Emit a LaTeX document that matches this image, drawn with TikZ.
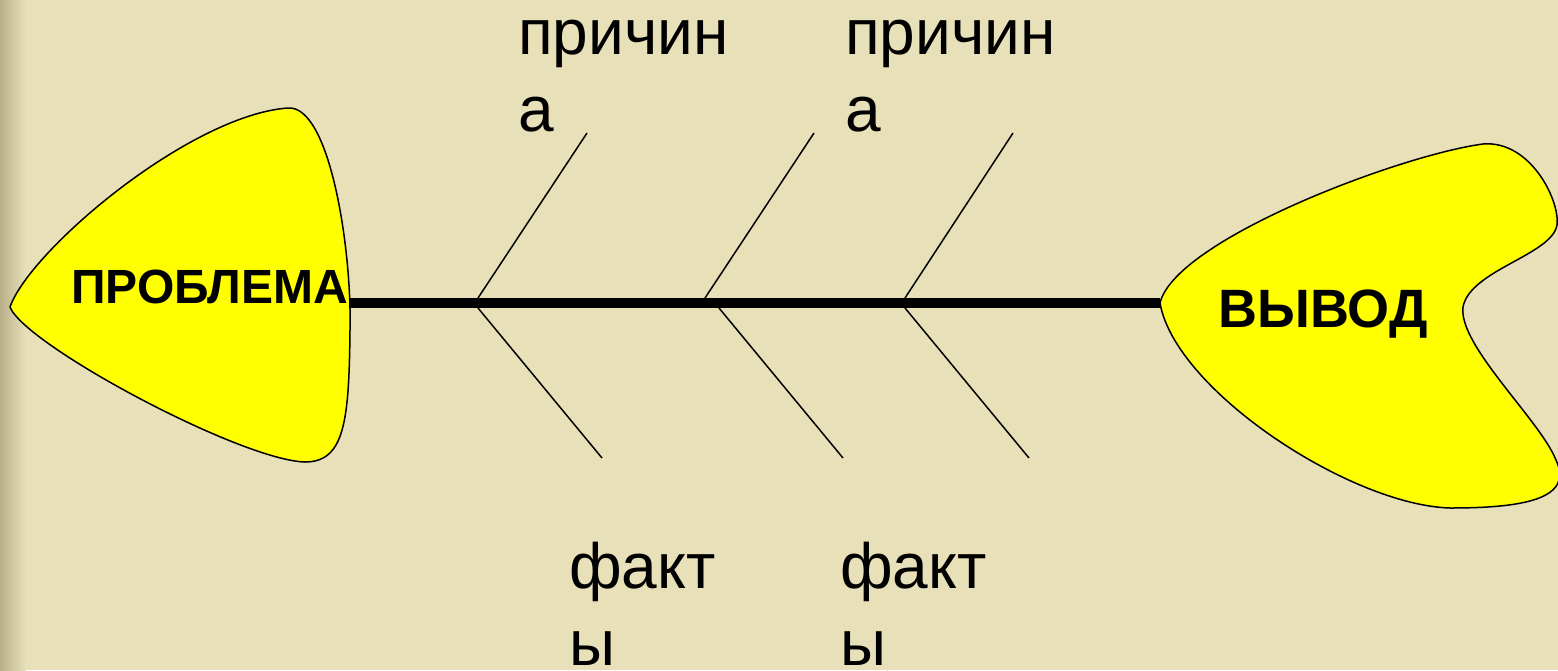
\documentclass[tikz,border=0pt]{standalone}
\usepackage{fontspec}
\setmainfont{Liberation Sans}
\usetikzlibrary{positioning}
\definecolor{bgbeige}{RGB}{232,224,184}
\definecolor{stripdark}{RGB}{186,176,138}
\definecolor{headyellow}{RGB}{255,255,0}

\begin{document}
\begin{tikzpicture}[
    x=1pt, y=-1pt,
    font=\fontsize{64}{77}\selectfont
]
\tikzset{
    headshape/.style = {draw=black, line width=1.5pt, fill=headyellow},
    headtext/.style = {anchor=base west, inner sep=0pt, font=\bfseries\fontsize{48}{56}\selectfont},
    tailtext/.style = {anchor=base west, inner sep=0pt, font=\bfseries\fontsize{54}{64}\selectfont},
    bonelabel/.style = {anchor=north west, inner sep=0pt, align=left},
    spine/.style = {-, line width=10pt, black},
    bone/.style = {-, line width=1.5pt, black}
}
\useasboundingbox (0,0) rectangle (1558,670);
\fill[bgbeige] (0,0) rectangle (1558,670);
\shade[left color=stripdark, right color=bgbeige] (0,0) rectangle (26,670);
\draw[headshape] (10,307) .. controls (30,250) and (190,115) .. (288,108)
    .. controls (330,105) and (352,250) .. (350,330)
    .. controls (349,420) and (345,462) .. (305,462)
    .. controls (240,460) and (25,345) .. (10,307) -- cycle;
\draw[headshape] (1160,303) .. controls (1175,240) and (1400,155) .. (1483,144)
    .. controls (1530,140) and (1560,200) .. (1557,225)
    .. controls (1552,255) and (1470,270) .. (1463,307)
    .. controls (1458,345) and (1540,420) .. (1556,460)
    .. controls (1575,500) and (1520,508) .. (1450,508)
    .. controls (1350,505) and (1175,390) .. (1160,303) -- cycle;
\node[headtext] (problem) at (71,303) {ПРОБЛЕМА};
\node[tailtext] (result) at (1218,327) {ВЫВОД};
\coordinate (problemedge) at (349,303);
\coordinate (resulttip) at (1160,303);
\coordinate (c1) at (478,298);
\coordinate (c2) at (705,298);
\coordinate (c3) at (905,298);
\coordinate (c1end) at (587,133);
\coordinate (c2end) at (814,133);
\coordinate (c3end) at (1013,133);
\coordinate (f1) at (478,308);
\coordinate (f2) at (719,308);
\coordinate (f3) at (905,308);
\coordinate (f1end) at (602,458);
\coordinate (f2end) at (843,458);
\coordinate (f3end) at (1029,458);
\draw[bone] (c1) -- (c1end);
\draw[bone] (c2) -- (c2end);
\draw[bone] (c3) -- (c3end);
\draw[bone] (f1) -- (f1end);
\draw[bone] (f2) -- (f2end);
\draw[bone] (f3) -- (f3end);
\draw[spine] (problemedge) -- (resulttip);
\node[bonelabel] (cause1) at (518,20) {причин\\а};
\node[bonelabel] (cause2) at (845,20) {причин\\а};
\node[bonelabel] (fact1) at (569,542) {факт\\ы};
\node[bonelabel] (fact2) at (840,542) {факт\\ы};
\end{tikzpicture}
\end{document}
